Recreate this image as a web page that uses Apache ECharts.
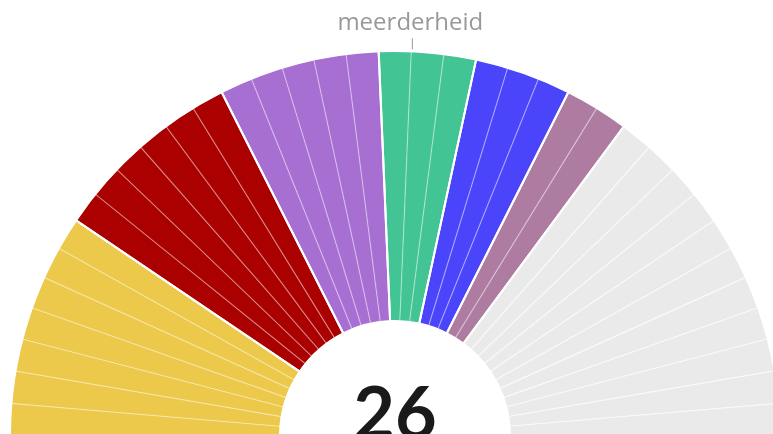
<!DOCTYPE html>
<html>
<head>
<meta charset="utf-8">
<script src="https://cdn.jsdelivr.net/npm/echarts@6/dist/echarts.min.js"></script>
<style>
html,body{margin:0;padding:0;background:#fff;}
#chart{width:773px;height:434px;}
</style>
</head>
<body>
<div id="chart"></div>
<script>
// Data
var parties = ['Partij 1', 'Partij 2', 'Partij 3', 'Partij 4', 'Partij 5', 'Partij 6', 'Overig'];
var seats = [7, 6, 5, 3, 3, 2, 11];
var colors = ['#ECC94B', '#AB0000', '#A86FD3', '#43C495', '#4A45FB', '#AE7CA1', '#EAEAEA'];
var coalition = [true, true, true, true, true, true, false];
var majorityLabel = 'meerderheid';

var chart = echarts.init(document.getElementById('chart'), null, {renderer: 'canvas'});

var cx = 395, cy = 436, rIn = 115, rOut = 385;

var total = seats.reduce(function (a, b) { return a + b; }, 0);
var majority = Math.floor(total / 2) + 1;
var coalitionSeats = 0;
seats.forEach(function (s, i) { if (coalition[i]) coalitionSeats += s; });

var seatData = [];
parties.forEach(function (p, i) {
  for (var k = 0; k < seats[i]; k++) {
    seatData.push({
      name: p + ' ' + (k + 1),
      value: 1,
      itemStyle: {
        color: colors[i],
        borderColor: coalition[i] ? 'rgba(255,255,255,0.3)' : 'rgba(255,255,255,0.55)'
      }
    });
  }
});
var partyData = parties.map(function (p, i) {
  return { name: p, value: seats[i] };
});

var theta = Math.PI - (majority / total) * Math.PI;
var mx = cx + rOut * Math.cos(theta);
var my = cy - rOut * Math.sin(theta);

chart.setOption({
  animation: false,
  series: [
    {
      type: 'pie',
      center: [cx, cy],
      radius: [rIn, rOut],
      startAngle: 180,
      endAngle: 0,
      clockwise: true,
      silent: true,
      label: { show: false },
      labelLine: { show: false },
      itemStyle: { borderWidth: 1.2 },
      data: seatData
    },
    {
      type: 'pie',
      center: [cx, cy],
      radius: [rIn, rOut],
      startAngle: 180,
      endAngle: 0,
      clockwise: true,
      silent: true,
      label: { show: false },
      labelLine: { show: false },
      itemStyle: { color: 'rgba(0,0,0,0)', borderColor: '#ffffff', borderWidth: 2 },
      data: partyData
    }
  ],
  graphic: [
    {
      type: 'line',
      shape: { x1: mx + 1, y1: my - 13, x2: mx + 1, y2: my - 2 },
      style: { stroke: '#999999', lineWidth: 1 }
    },
    {
      type: 'text',
      x: mx - 1,
      y: 23,
      style: {
        text: majorityLabel,
        fill: '#999999',
        font: '24px "Open Sans", Lato, sans-serif',
        textAlign: 'center',
        textVerticalAlign: 'middle'
      }
    },
    {
      type: 'text',
      x: cx,
      y: 452,
      style: {
        text: String(coalitionSeats),
        fill: '#1a1a1a',
        font: 'bold 72px Lato, "Noto Sans", sans-serif',
        textAlign: 'center',
        textVerticalAlign: 'bottom'
      }
    }
  ]
});
</script>
</body>
</html>
